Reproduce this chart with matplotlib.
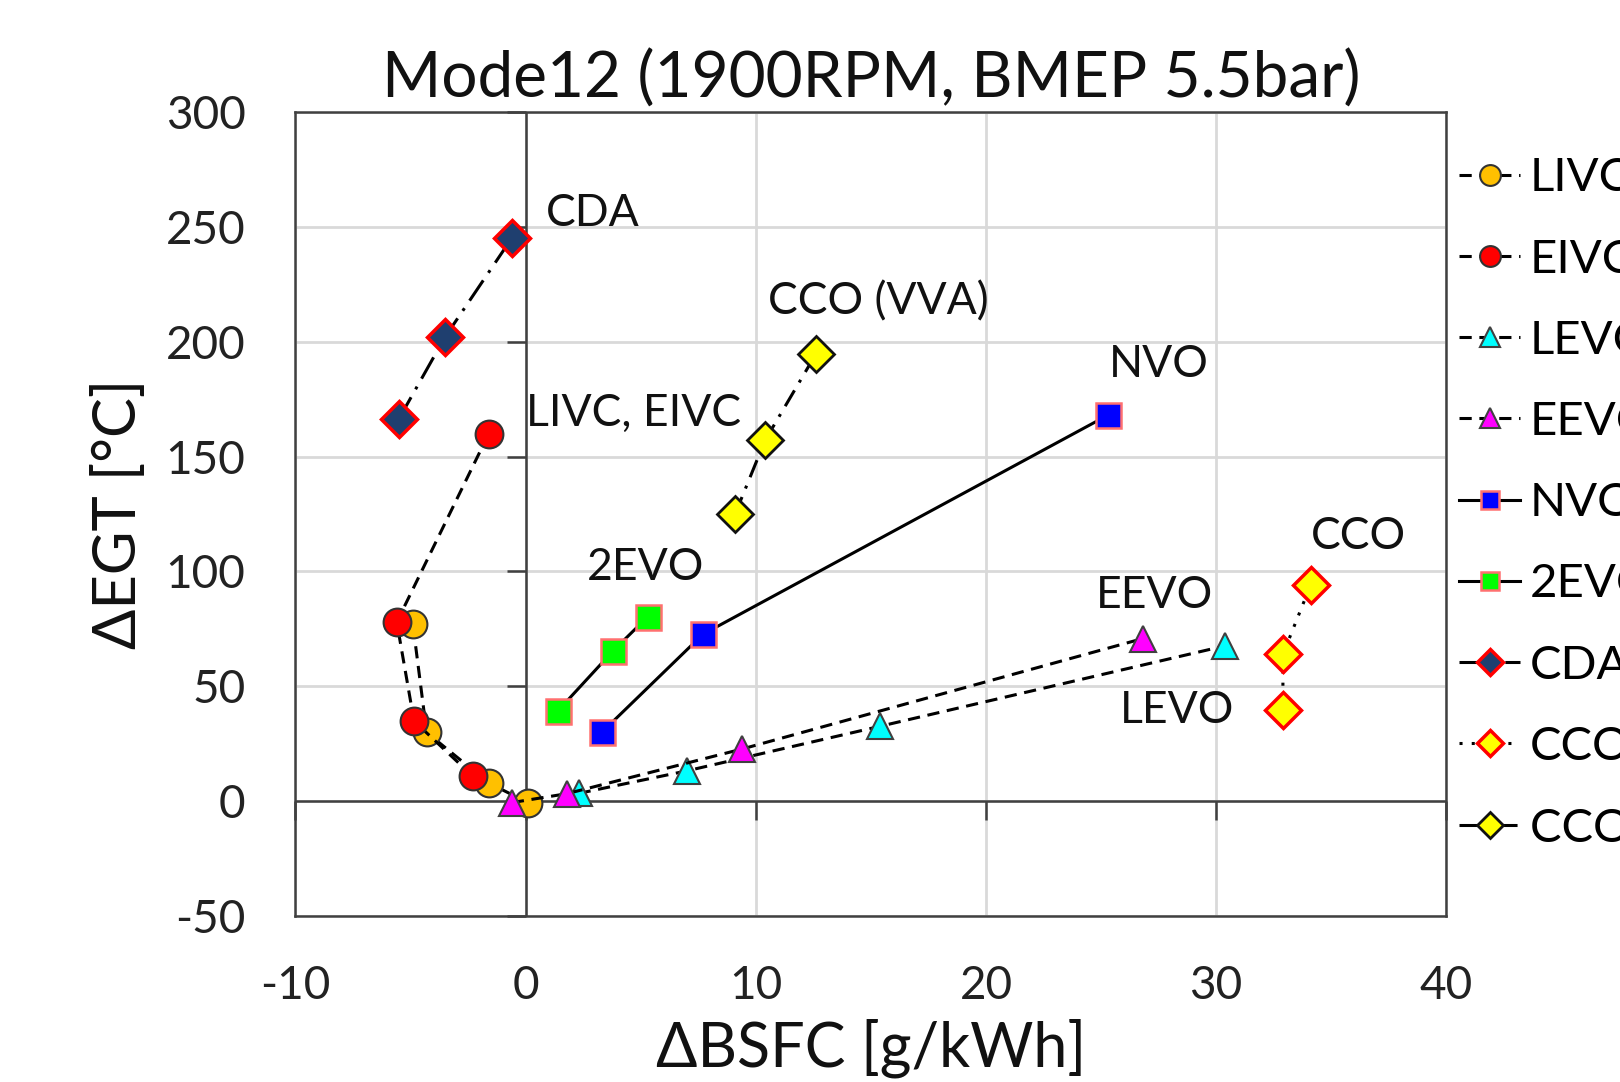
import matplotlib

matplotlib.use("Agg")
import matplotlib.pyplot as plt
import numpy as np

plt.rcParams["font.family"] = ["Lato", "DejaVu Sans"]
plt.rcParams["axes.unicode_minus"] = False

# series data (dBSFC [g/kWh], dEGT [degC])
livc_x = [0.1, -1.6, -4.3, -4.9]
livc_y = [-0.5, 8, 30, 77]
eivc_x = [-2.3, -4.85, -5.6, -1.6]
eivc_y = [11, 35, 78, 160]
levo_x = [2.3, 7.0, 15.4, 30.4]
levo_y = [3.5, 13.3, 32.7, 67.7]
eevo_x = [-0.6, 1.8, 9.4, 26.8]
eevo_y = [-0.5, 3.4, 22.8, 70.8]
nvo_x = [3.3, 7.7, 25.3]
nvo_y = [30, 72.7, 168]
evo2_x = [1.4, 3.8, 5.3]
evo2_y = [39.4, 65.5, 80.3]
cda_x = [-5.5, -3.5, -0.6]
cda_y = [166.5, 202, 245]
cco_x = [32.9, 32.9, 34.1]
cco_y = [39.7, 64, 94]
ccovva_x = [9.1, 10.4, 12.6]
ccovva_y = [125, 157, 194.4]

labels = ["LIVC", "EIVC", "LEVO", "EEVO", "NVO", "2EVO", "CDA", "CCO", "CCO (VVA)"]

annot_text = ["CDA", "CCO (VVA)", "LIVC, EIVC", "NVO", "2EVO", "CCO", "EEVO", "LEVO"]
annot_x = [2.9, 15.3, 4.7, 27.5, 5.2, 36.2, 27.3, 28.3]
annot_y = [255.5, 217.3, 168.8, 189.9, 101.8, 115.3, 89.7, 39.4]

fig = plt.figure(figsize=(16.2, 10.82), dpi=100)
ax = fig.add_axes([0.1824, 0.1530, 0.7104, 0.7439])

ax.set_xlim(-10, 40)
ax.set_ylim(-50, 300)
ax.set_xticks(np.arange(-10, 41, 10))
ax.set_yticks(np.arange(-50, 301, 50))
ax.grid(True, color="#d9d9d9", linewidth=2)
ax.set_axisbelow(True)
for sp in ax.spines.values():
    sp.set_color("#404040")
    sp.set_linewidth(1.8)
ax.tick_params(length=0, labelsize=33, colors="#222222")
ax.tick_params(axis="y", pad=36)
ax.tick_params(axis="x", pad=35)

# axes crossing at zero, Excel style
ax.axhline(0, color="#404040", linewidth=1.8, zorder=1)
ax.axvline(0, color="#404040", linewidth=1.8, zorder=1)
yt = np.arange(-50, 301, 50)
xt = np.arange(-10, 41, 10)
ax.plot(np.zeros(len(yt)), yt, ls="none", marker=0, ms=14, mew=1.8, color="#404040",
        clip_on=False, zorder=1)
ax.plot(xt, np.zeros(len(xt)), ls="none", marker=3, ms=14, mew=1.8, color="#404040",
        clip_on=False, zorder=1)

lw = 2.2
dash = (0, (4, 2.5))
common = dict(color="black", linewidth=lw, clip_on=False)
h = []
h += ax.plot(livc_x, livc_y, ls=dash, marker="o", ms=20, mfc="#FFC000",
             mec="#333333", mew=1.5, label=labels[0], zorder=4, **common)
h += ax.plot(eivc_x, eivc_y, ls=dash, marker="o", ms=20, mfc="#FF0000",
             mec="#333333", mew=1.5, label=labels[1], zorder=5, **common)
h += ax.plot(levo_x, levo_y, ls=dash, marker="^", ms=19, mfc="#00FFFF",
             mec="#404040", mew=1.5, label=labels[2], zorder=4, **common)
h += ax.plot(eevo_x, eevo_y, ls=dash, marker="^", ms=19, mfc="#FF00FF",
             mec="#404040", mew=1.5, label=labels[3], zorder=5, **common)
h += ax.plot(nvo_x, nvo_y, ls="-", marker="s", ms=18, mfc="#0000FF",
             mec="#FF7070", mew=1.8, label=labels[4], zorder=4, **common)
h += ax.plot(evo2_x, evo2_y, ls="-", marker="s", ms=18, mfc="#00FF00",
             mec="#FF7070", mew=1.8, label=labels[5], zorder=4, **common)
h += ax.plot(cda_x, cda_y, ls=(0, (8, 3, 1, 3)), marker="D", ms=18, mfc="#1F3F6F",
             mec="#FF0000", mew=2.5, label=labels[6], zorder=4, **common)
h += ax.plot(cco_x, cco_y, ls=(0, (1, 3)), marker="D", ms=18, mfc="#FFFF00",
             mec="#FF0000", mew=2.5, label=labels[7], zorder=4, **common)
h += ax.plot(ccovva_x, ccovva_y, ls=(0, (6, 3, 1, 3)), marker="D", ms=18, mfc="#FFFF00",
             mec="#111111", mew=2, label=labels[8], zorder=4, **common)

for t, x, y in zip(annot_text, annot_x, annot_y):
    ax.text(x, y, t, fontsize=32, ha="center", va="center", color="#111111", zorder=6)

ax.set_title("Mode12 (1900RPM, BMEP 5.5bar)", fontsize=46, pad=10, color="#111111")
ax.set_xlabel("\u0394BSFC [g/kWh]", fontsize=44, labelpad=8, color="#111111")
ax.set_ylabel("\u0394EGT [\u00b0C]", fontsize=43, labelpad=14, color="#111111")

fig.legend(handles=h, loc="upper left", bbox_to_anchor=(0.889, 0.872), frameon=False,
           fontsize=34, handlelength=1.3, handletextpad=0.2, labelspacing=0.83,
           markerscale=0.75, borderaxespad=0)

fig.savefig("out.png", dpi=100)
